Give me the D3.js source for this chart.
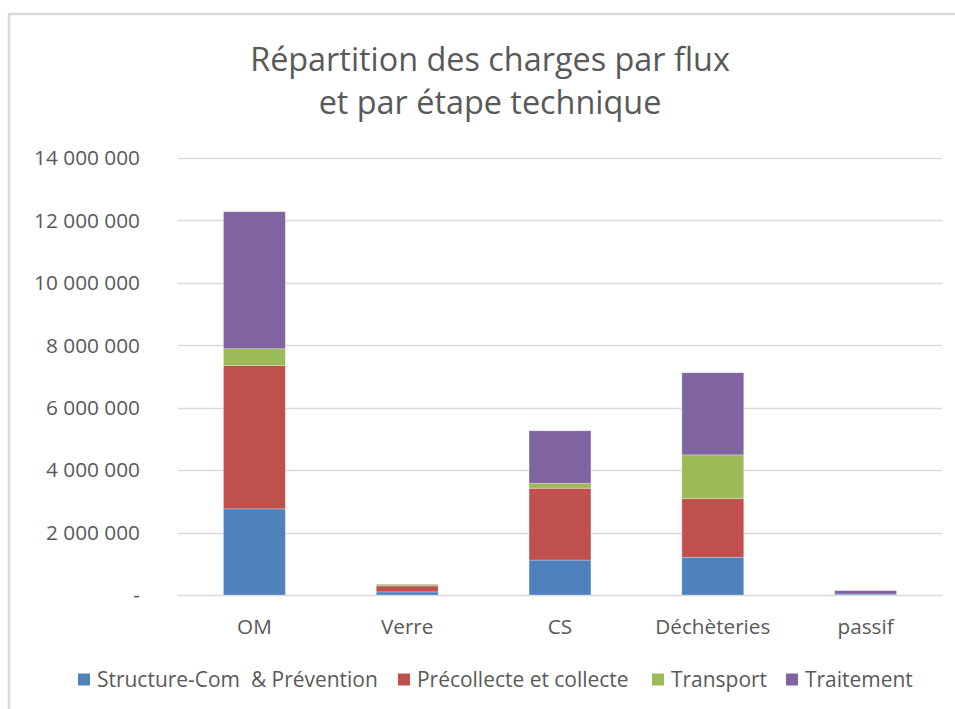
<!DOCTYPE html>
<html><head><meta charset="utf-8">
<script src="https://cdn.jsdelivr.net/npm/d3@7"></script>
<style>html,body{margin:0;padding:0;background:#fff;}svg{display:block;}</style>
</head><body>
<svg id="chart" width="955" height="709"></svg>
<script>
const categories = ["OM", "Verre", "CS", "Déchèteries", "passif"];
const seriesNames = ["Structure-Com  & Prévention", "Précollecte et collecte", "Transport", "Traitement"];
const seriesColors = ["#4f81bd", "#c0504d", "#9bbb59", "#8064a2"];
const structure = [2760000, 100000, 1120000, 1210000, 30000];
const precollecte = [4590000, 190000, 2300000, 1880000, 0];
const transport = [540000, 50000, 160000, 1400000, 0];
const traitement = [4390000, 10000, 1680000, 2630000, 110000];
const yTicks = [0, 2000000, 4000000, 6000000, 8000000, 10000000, 12000000, 14000000];
const titleLines = ["Répartition des charges par flux", "et par étape technique"];

const font = "'Open Sans', Lato, sans-serif";
const svg = d3.select("#chart");
const W = 955, H = 709;
const m = {left: 178, right: 942, top: 158, bottom: 595};

// fit a font size so a sample string spans a target width
function fitSize(sample, target, base) {
  const t = svg.append("text").attr("font-family", font).attr("font-size", base).style("white-space", "pre").text(sample);
  const w = t.node().getComputedTextLength();
  t.remove();
  return base * target / w;
}
const titleSize = fitSize(titleLines[0], 480, 28);
const tickSize = fitSize("14 000 000", 106, 18);
const catSize = fitSize("Déchèteries", 115, 18);
const legSize = fitSize(seriesNames[0], 281, 18);

// border
svg.append("path").attr("d", `M9,${H} V14 H${W}`).attr("fill", "none").attr("stroke", "#d9d9d9").attr("stroke-width", 2.5);

const x = d3.scaleBand().domain(categories).range([m.left, m.right]).paddingInner(0.595).paddingOuter(0.2975);
const y = d3.scaleLinear().domain([0, 14000000]).range([m.bottom, m.top]);

// gridlines
svg.append("g").selectAll("line").data(yTicks).join("line")
  .attr("x1", m.left).attr("x2", m.right)
  .attr("y1", d => Math.round(y(d)) + 0.5).attr("y2", d => Math.round(y(d)) + 0.5)
  .attr("stroke", "#d9d9d9").attr("stroke-width", 1.3);

// y labels
const fmt = d => d === 0 ? "-" : d3.format(",")(d).replace(/,/g, " ");
svg.append("g").selectAll("text").data(yTicks).join("text")
  .attr("x", 140).attr("y", d => y(d)).attr("dy", "0.35em")
  .attr("text-anchor", "end").attr("font-family", font).attr("font-size", tickSize).attr("fill", "#595959")
  .text(fmt);

// stacked data
const keys = ["structure", "precollecte", "transport", "traitement"];
const vals = {structure, precollecte, transport, traitement};
const table = categories.map((c, i) => { const o = {cat: c}; keys.forEach(k => o[k] = vals[k][i]); return o; });
const stack = d3.stack().keys(keys)(table);

svg.append("g").selectAll("g").data(stack).join("g")
  .attr("fill", (d, i) => seriesColors[i])
  .selectAll("rect").data(d => d).join("rect")
  .attr("x", d => x(d.data.cat)).attr("width", x.bandwidth())
  .attr("y", d => y(d[1])).attr("height", d => Math.max(0, y(d[0]) - y(d[1])))
  .attr("stroke", "#ffffff").attr("stroke-opacity", 0.35).attr("stroke-width", 0.8);

// x labels
svg.append("g").selectAll("text").data(categories).join("text")
  .attr("x", d => x(d) + x.bandwidth() / 2).attr("y", 634)
  .attr("text-anchor", "middle").attr("font-family", font).attr("font-size", catSize).attr("fill", "#595959")
  .text(d => d);

// title
svg.append("g").selectAll("text").data(titleLines).join("text")
  .attr("x", 490).attr("y", (d, i) => 71 + i * 43)
  .attr("text-anchor", "middle").attr("font-family", font).attr("font-size", titleSize).attr("fill", "#595959")
  .text(d => d);

// legend
const legendX = [78, 398, 652, 786];
const lg = svg.append("g").selectAll("g").data(seriesNames).join("g")
  .attr("transform", (d, i) => `translate(${legendX[i]},0)`);
lg.append("rect").attr("x", 0).attr("y", 673.5).attr("width", 12).attr("height", 12).attr("fill", (d, i) => seriesColors[i]);
lg.append("text").attr("x", 19).attr("y", 687).attr("font-family", font).attr("font-size", legSize).attr("fill", "#595959")
  .style("white-space", "pre").text(d => d);
</script>
</body></html>
